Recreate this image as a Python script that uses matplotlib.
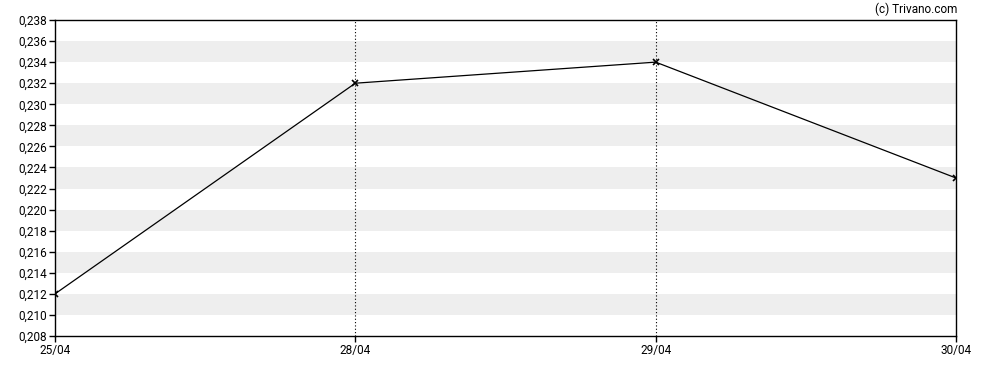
import matplotlib
matplotlib.use("Agg")
import matplotlib.pyplot as plt

dates = ["25/04", "28/04", "29/04", "30/04"]
prices = [0.212, 0.232, 0.234, 0.223]
y_ticks = [0.208 + 0.002 * i for i in range(16)]

plt.rcParams['font.family'] = ['Roboto', 'DejaVu Sans']

fig = plt.figure(figsize=(9.88, 3.70), dpi=100)
ax = fig.add_axes([55 / 988, 1 - 336 / 370, (956 - 55) / 988, (336 - 20) / 370])

# alternating grey bands
for i in range(1, len(y_ticks) - 1, 2):
    ax.axhspan(y_ticks[i], y_ticks[i + 1], color='#eeeeee', lw=0, zorder=0)

x = list(range(len(dates)))
for xi in x[1:-1]:
    ax.axvline(xi, color='black', linestyle=(0, (1, 2)), lw=0.8, zorder=1)

ax.plot(x, prices, color='black', lw=0.9, marker='x', markersize=4,
        markeredgewidth=1.2, zorder=3)

ax.set_xlim(0, len(dates) - 1)
ax.set_ylim(0.208, 0.238)
ax.set_xticks(x)
ax.set_xticklabels(dates)
ax.set_yticks(y_ticks)
ax.set_yticklabels([f"{v:.3f}".replace('.', ',') for v in y_ticks])
ax.tick_params(labelsize=8.5, length=4, width=1, color='black', pad=2)
for s in ax.spines.values():
    s.set_linewidth(1)

fig.text(957 / 988, 1 - 9 / 370, "(c) Trivano.com", ha='right', va='center', fontsize=8.5)

fig.savefig("out.png", dpi=100)
